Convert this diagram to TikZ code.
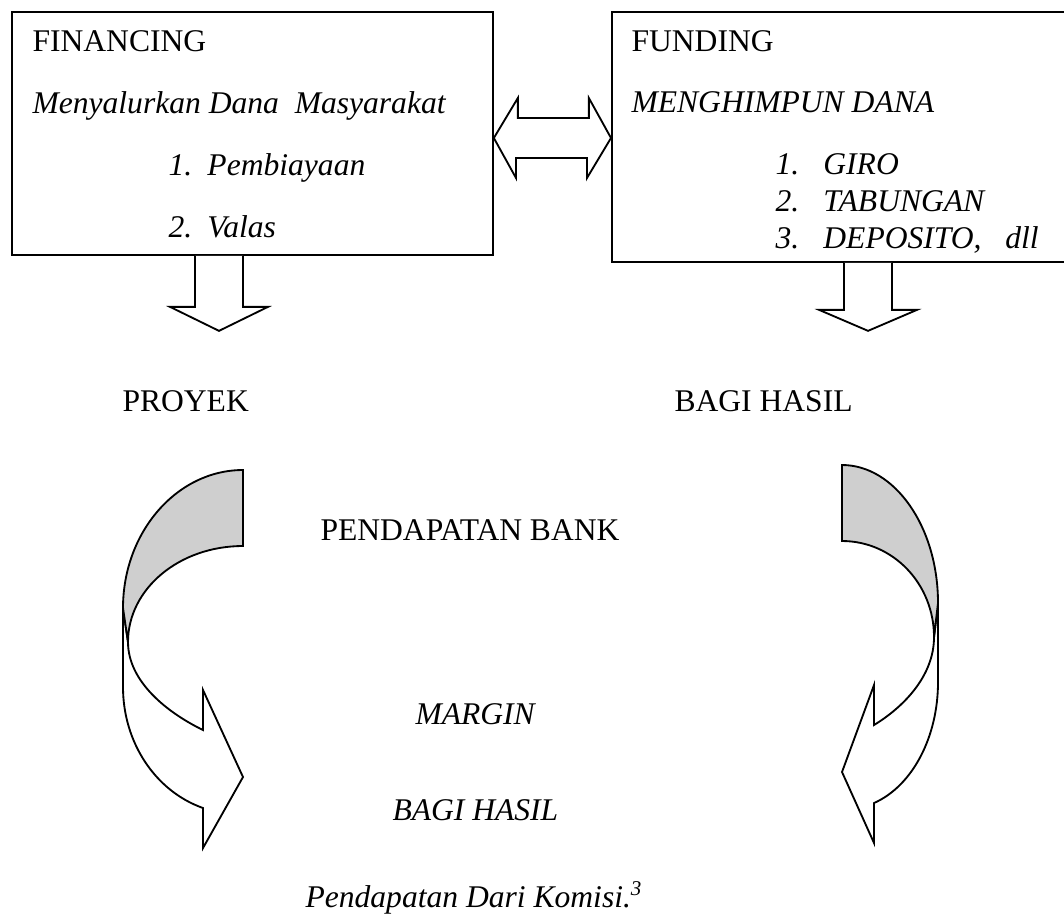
\documentclass[tikz,border=0pt,12pt]{standalone}
\usepackage{fontspec}
\setmainfont{Liberation Serif}
\usetikzlibrary{calc}
\definecolor{shade}{HTML}{CFCFCF}
\newlength\pxu
\setlength\pxu{0.38pt}

\begin{document}
\begin{tikzpicture}[
 x=0.38pt, y=-0.38pt,
 box/.style={rectangle,draw,line width=0.7pt,anchor=north west,inner sep=0pt},
 txt/.style={inner sep=0pt,anchor=base west},
 itxt/.style={txt,font=\itshape},
 blockarr/.style={draw,line width=0.7pt,fill=white,line join=miter},
 curvedarr/.pic={
  \draw[blockarr] (-120,608) -- (-120,687) .. controls (-120,742) and (-88,791) .. (-40,808)
   -- (-40,848) -- (0,777) -- (-40,690) -- (-40,730) .. controls (-75,713) and (-115,682) .. (-115,642) -- cycle;
  \draw[blockarr,fill=shade] (0,470) .. controls (-66,470) and (-120,532) .. (-120,608)
   -- (-115,642) .. controls (-115,589) and (-64,546) .. (0,546) -- cycle;
 }
]
\useasboundingbox (0,0) rectangle (1064,920);

% the two boxes
\node[box,minimum width=481\pxu,minimum height=243\pxu] (fin) at (11,11) {};
\node[box,minimum width=457\pxu,minimum height=250\pxu] (fund) at (611,11) {};

\node[txt] (fintitle) at (32,51) {FINANCING};
\node[itxt] (finsub) at (32,113) {Menyalurkan Dana~ Masyarakat};
\node[itxt] (fin1) at (168,175) {\makebox[14.8pt][l]{1.}Pembiayaan};
\node[itxt] (fin2) at (168,237) {\makebox[14.8pt][l]{2.}Valas};

\node[txt] (fundtitle) at (631,51) {FUNDING};
\node[itxt] (fundsub) at (631,112) {MENGHIMPUN DANA};
\node[itxt] (fund1) at (775,174) {\makebox[18.2pt][l]{1.}GIRO};
\node[itxt] (fund2) at (775,211) {\makebox[18.2pt][l]{2.}TABUNGAN};
\node[itxt] (fund3) at (775,248) {\makebox[18.2pt][l]{3.}DEPOSITO,~~ dll};

% block arrows
\draw[blockarr] (fin.east |- 0,138) -- ++(24,-40) -- ++(0,20) -- ++(71,0) -- ++(0,-20) -- (fund.west |- 0,138)
 -- ++(-24,40) -- ++(0,-20) -- ++(-71,0) -- ++(0,20) -- cycle;
\draw[blockarr] ([xshift=184\pxu]fin.south west) -- ++(0,51) -- ++(-25,0) -- ++(49,24) -- ++(49,-24) -- ++(-25,0) -- ++(0,-51);
\draw[blockarr] ([xshift=233\pxu]fund.south west) -- ++(0,47) -- ++(-25,0) -- ++(49,21) -- ++(49,-21) -- ++(-25,0) -- ++(0,-47);

\node[txt] (proyek) at (122,411) {PROYEK};
\node[txt] (bagi) at (674,411) {BAGI HASIL};
\node[txt] (bank) at (320,540) {PENDAPATAN BANK};
\node[itxt] (margin) at (415,724) {MARGIN};
\node[itxt] (bagi2) at (392,820) {BAGI HASIL};
\node[itxt] (komisi) at (305,907) {Pendapatan Dari Komisi.\textsuperscript{3}};

% curved arrows
\pic at (243,0) {curvedarr};
\pic[xscale=-0.8] at (842,-5) {curvedarr};
\end{tikzpicture}
\end{document}
